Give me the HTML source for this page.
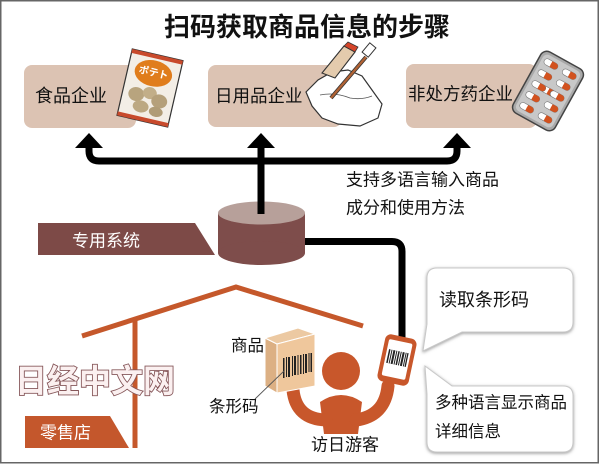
<!DOCTYPE html>
<html><head><meta charset="utf-8">
<style>
html,body{margin:0;padding:0;background:#fff;}
svg{display:block;}
text{font-family:"Liberation Sans","Noto Sans CJK SC","WenQuanYi Zen Hei",sans-serif;}
</style></head>
<body>
<svg width="600" height="465" viewBox="0 0 600 465" xmlns="http://www.w3.org/2000/svg">
<defs>
<filter id="sh" x="-10%" y="-10%" width="120%" height="130%">
<feDropShadow dx="0" dy="1" stdDeviation="1.6" flood-color="#777" flood-opacity="0.75"/>
</filter>
</defs>
<rect x="0" y="0" width="600" height="465" fill="#fff"/>
<rect x="0.75" y="0.75" width="597.5" height="462" fill="none" stroke="#666" stroke-width="1.5"/>

<!-- title -->
<text x="307" y="27" font-size="26" font-weight="bold" text-anchor="middle" dominant-baseline="central" fill="#111">扫码获取商品信息的步骤</text>

<!-- boxes -->
<rect x="24" y="65" width="112" height="63" rx="8" fill="#dcc3b3"/>
<rect x="208" y="65" width="134" height="62" rx="8" fill="#dcc3b3"/>
<rect x="406" y="64" width="131" height="64" rx="8" fill="#dcc3b3"/>
<text x="35" y="96" font-size="18" dominant-baseline="central" fill="#111">食品企业</text>
<text x="215" y="96" font-size="17.5" dominant-baseline="central" fill="#111">日用品企业</text>
<text x="408" y="94" font-size="17.5" dominant-baseline="central" fill="#111">非处方药企业</text>

<!-- chip bag -->
<g transform="translate(150,88) rotate(13)">
<rect x="-26" y="-34" width="52" height="68" fill="#f3eee6" stroke="#333" stroke-width="1.2"/>
<rect x="-26" y="-34" width="52" height="4" fill="#c84a2c"/>
<rect x="-26" y="30" width="52" height="4" fill="#c84a2c"/>
<ellipse cx="0" cy="-15" rx="19" ry="13" fill="#e07d1c"/>
<text x="0" y="-15" font-size="10" font-weight="bold" fill="#fff" text-anchor="middle" dominant-baseline="central">ポテト</text>
<ellipse cx="-12" cy="9" rx="8" ry="7" fill="#b8a47e"/>
<ellipse cx="1" cy="5" rx="7" ry="6" fill="#c2ae88"/>
<ellipse cx="12" cy="11" rx="8" ry="7" fill="#b5a07a"/>
<ellipse cx="-5" cy="20" rx="8" ry="6" fill="#bca882"/>
<ellipse cx="11" cy="22" rx="7" ry="5" fill="#b09c76"/>
</g>

<!-- daily goods -->
<polygon points="306,92 318,80 332,72 348,70 362,76 372,90 382,104 378,118 360,126 338,124 322,118 312,106" fill="#fff" stroke="#333" stroke-width="1.2"/>
<path d="M320 95 Q335 92 350 98 Q362 100 372 96" fill="none" stroke="#555" stroke-width="0.8"/>
<polygon points="322,73 335,78 355,52 344,46" fill="#e4cbad" stroke="#333" stroke-width="1.1"/>
<polygon points="344,46 355,52 358,47 348,42" fill="#d5452a" stroke="#333" stroke-width="0.8"/>
<line x1="331" y1="98" x2="366" y2="57" stroke="#333" stroke-width="4"/>
<line x1="331" y1="98" x2="366" y2="57" stroke="#b06234" stroke-width="2.4"/>
<g transform="translate(369,50) rotate(40)"><rect x="-4" y="-6" width="8" height="12" fill="#fff" stroke="#333" stroke-width="1"/></g>

<!-- pill pack -->
<g transform="translate(548,91) rotate(29)">
<rect x="-24" y="-35" width="48" height="70" rx="7" fill="#a9a9a9" stroke="#444" stroke-width="1.5"/>
<rect x="-21" y="-32" width="42" height="64" rx="5" fill="#c8c8c8"/>
<g id="cap"><rect x="-7.5" y="-3.2" width="15" height="6.4" rx="3.2" fill="#fff" stroke="#777" stroke-width="0.6"/><rect x="0" y="-3.2" width="7.5" height="6.4" rx="3.2" fill="#d2521f"/><rect x="0" y="-3.2" width="3" height="6.4" fill="#d2521f"/></g>
<use href="#cap" x="-10.5" y="-25"/><use href="#cap" x="10.5" y="-25"/>
<use href="#cap" x="-10.5" y="-12.5"/><use href="#cap" x="10.5" y="-12.5"/>
<use href="#cap" x="-10.5" y="0"/><use href="#cap" x="10.5" y="0"/>
<use href="#cap" x="-10.5" y="12.5"/><use href="#cap" x="10.5" y="12.5"/>
<use href="#cap" x="-10.5" y="25"/><use href="#cap" x="10.5" y="25"/>
</g>

<!-- arrows -->
<path d="M89 146 V151 Q89 161 99 161 H447 Q457 161 457 151 V146" fill="none" stroke="#000" stroke-width="7"/>
<line x1="261" y1="146" x2="261" y2="214" stroke="#000" stroke-width="7"/>
<polygon points="75,148 103,148 89,133" fill="#000"/>
<polygon points="247,148 275,148 261,133" fill="#000"/>
<polygon points="443,148 471,148 457,133" fill="#000"/>

<text x="346" y="180" font-size="17" dominant-baseline="central" fill="#111">支持多语言输入商品</text>
<text x="346" y="208" font-size="17" dominant-baseline="central" fill="#111">成分和使用方法</text>

<!-- banner system -->
<polygon points="38,223 195,223 215,255 38,255" fill="#7d4a47"/>
<text x="72" y="241" font-size="17" dominant-baseline="central" fill="#fff">专用系统</text>

<!-- connector to phone -->
<path d="M300 241.5 H392 Q402 241.5 402 251.5 V340" fill="none" stroke="#000" stroke-width="7"/>

<!-- cylinder -->
<rect x="218" y="213" width="87" height="40" fill="#7e4d4b"/>
<ellipse cx="261.5" cy="253" rx="43.5" ry="12" fill="#7e4d4b"/>
<ellipse cx="261.5" cy="213" rx="43.5" ry="11.5" fill="#b7a09a"/>
<line x1="261" y1="160" x2="261" y2="214" stroke="#000" stroke-width="7"/>

<!-- house -->
<polyline points="82,336 236,287 363,326" fill="none" stroke="#c5582b" stroke-width="5"/>
<line x1="135" y1="320" x2="135" y2="448" stroke="#c5582b" stroke-width="5"/>

<!-- watermark -->
<text x="15" y="381" font-size="32" font-weight="bold" dominant-baseline="central" fill="#fbf0f0" stroke="#86575a" stroke-width="1.8" paint-order="stroke">日经中文网</text>

<!-- retail banner -->
<polygon points="25,416 110,416 129,448 25,448" fill="#c4572c"/>
<text x="40" y="433" font-size="17" dominant-baseline="central" fill="#fff">零售店</text>

<!-- person -->
<circle cx="341" cy="371" r="19" fill="#c8572b"/>
<path d="M320 402 Q341 388 362 402 L358 434 L324 434 Z" fill="#c8572b"/>
<path d="M293 390 Q296 419 326 420" fill="none" stroke="#c8572b" stroke-width="13" stroke-linecap="round"/>
<path d="M356 420 Q385 416 388 386" fill="none" stroke="#c8572b" stroke-width="13" stroke-linecap="round"/>

<!-- product box -->
<polygon points="265,338 277,344 277,393 265,386" fill="#dcb084" stroke="#fff" stroke-width="1"/>
<polygon points="265,338 298,328 315,334 277,344" fill="#ecc9a2" stroke="#fff" stroke-width="1"/>
<polygon points="277,344 315,334 315,386 277,393" fill="#efc79c" stroke="#fff" stroke-width="1"/>
<g fill="#222">
<rect x="283" y="358" width="1.5" height="20"/><rect x="286" y="357" width="1" height="20"/><rect x="288" y="357" width="2" height="20"/>
<rect x="292" y="356" width="1" height="20"/><rect x="294" y="356" width="2" height="19"/><rect x="297.5" y="355" width="1" height="20"/>
<rect x="300" y="355" width="1.5" height="19"/><rect x="303" y="354" width="1" height="20"/><rect x="305" y="354" width="2" height="19"/>
<rect x="308.5" y="353" width="1" height="19"/><rect x="310.5" y="353" width="1.5" height="19"/>
</g>
<line x1="284" y1="371" x2="255" y2="399" stroke="#555" stroke-width="0.9"/>

<text x="231" y="346" font-size="16.5" dominant-baseline="central" fill="#111">商品</text>
<text x="209" y="407" font-size="16.5" dominant-baseline="central" fill="#111">条形码</text>
<text x="311" y="445" font-size="17" dominant-baseline="central" fill="#111">访日游客</text>

<!-- phone -->
<g transform="translate(397,360) rotate(12)">
<rect x="-16" y="-24" width="32" height="48" rx="6" fill="#c8572b"/>
<rect x="-12" y="-19" width="24" height="37" rx="2" fill="#fff"/>
<g fill="#222">
<rect x="-10" y="-9" width="1.5" height="14"/><rect x="-7.5" y="-9" width="1" height="14"/><rect x="-5.5" y="-9" width="2" height="14"/>
<rect x="-2.5" y="-9" width="1" height="14"/><rect x="-0.5" y="-9" width="1.5" height="14"/><rect x="2" y="-9" width="1" height="14"/>
<rect x="4" y="-9" width="2" height="14"/><rect x="7" y="-9" width="1" height="14"/><rect x="8.7" y="-9" width="1.3" height="14"/>
</g>
</g>

<!-- bubbles -->
<path d="M437 268 H563 Q573 268 573 278 V322 Q573 332 563 332 H462 L423 351 L427 324 V278 Q427 268 437 268 Z" fill="#fff" stroke="#c8c8c8" stroke-width="1" filter="url(#sh)"/>
<path d="M452 386 H563 Q573 386 573 396 V442 Q573 452 563 452 H437 Q427 452 427 442 V394 L425 366 Z" fill="#fff" stroke="#c8c8c8" stroke-width="1" filter="url(#sh)"/>
<text x="439" y="300" font-size="18" dominant-baseline="central" fill="#111">读取条形码</text>
<text x="435" y="403" font-size="16.5" dominant-baseline="central" fill="#111">多种语言显示商品</text>
<text x="435" y="432" font-size="16.5" dominant-baseline="central" fill="#111">详细信息</text>
</svg>
</body></html>
